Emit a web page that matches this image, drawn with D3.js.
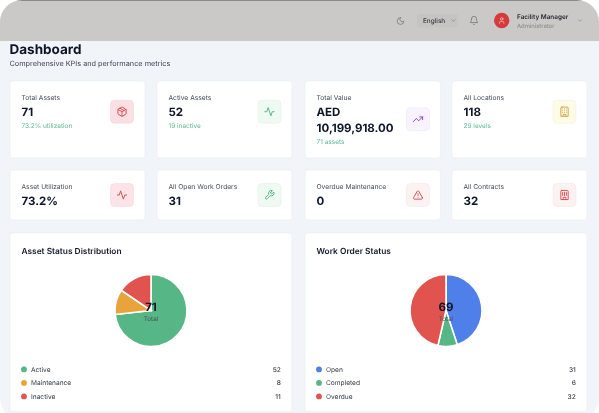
<!DOCTYPE html>
<html>
<head>
<meta charset="utf-8">
<title>Dashboard</title>
<style>
	body,html { margin:0px; background:#fff; }
	svg { display:block; font-family:Inter,sans-serif; text-rendering:geometricPrecision; }
</style>
<script src="https://cdn.jsdelivr.net/npm/d3@7/dist/d3.min.js"></script>
</head>
<body>
<svg id="page" width="599" height="413"></svg>
<script>
// kpi cards
var cardLabels = ["Total Assets","Active Assets","Total Value","All Locations","Asset Utilization","All Open Work Orders","Overdue Maintenance","All Contracts"];
var cardValues = [["71"],["52"],["AED","10,199,918.00"],["118"],["73.2%"],["31"],["0"],["32"]];
var cardNotes = ["73.2% utilization","19 inactive","71 assets","29 levels","","","",""];
var cardIcons = ["box","activity","trend","building","activity","wrench","alert","contract"];
var cardTints = ["#fbdfe3","#effaf3","#f8f3fe","#fefbe6","#fbe3e7","#effaf3","#fdf2f2","#fdf2f2"];
var cardInks = ["#d2484d","#4cb17f","#8038d8","#cfa03c","#d2484d","#4cb17f","#d2484d","#d2484d"];

// pie charts
var assetStatus = ["Active","Maintenance","Inactive"];
var assetCounts = [52,8,11];
var assetColors = ["#56b686","#e9a33b","#e0534f"];
var orderStatus = ["Open","Completed","Overdue"];
var orderCounts = [31,6,32];
var orderColors = ["#4f7fe8","#56b686","#e0534f"];

// lucide style outlines on a 24 grid
var iconPaths = {
	box:["M21 8a2 2 0 0 0-1-1.73l-7-4a2 2 0 0 0-2 0l-7 4A2 2 0 0 0 3 8v8a2 2 0 0 0 1 1.73l7 4a2 2 0 0 0 2 0l7-4A2 2 0 0 0 21 16Z","m3.3 7 8.7 5 8.7-5","M12 22V12","m7.5 4.27 9 5.15"],
	activity:["M22 12h-4l-3 9L9 3l-3 9H2"],
	trend:["M22 7 13.5 15.5 8.5 10.5 2 17","M16 7h6v6"],
	building:["M6 2h12a2 2 0 0 1 2 2v18H4V4a2 2 0 0 1 2-2Z","M9 22v-4h6v4","M8 6h.01M12 6h.01M16 6h.01M8 10h.01M12 10h.01M16 10h.01M8 14h.01M12 14h.01M16 14h.01"],
	wrench:["M14.7 6.3a1 1 0 0 0 0 1.4l1.6 1.6a1 1 0 0 0 1.4 0l3.77-3.77a6 6 0 0 1-7.94 7.94l-6.91 6.91a2.12 2.12 0 0 1-3-3l6.91-6.91a6 6 0 0 1 7.94-7.94l-3.76 3.76z"],
	alert:["m21.73 18-8-14a2 2 0 0 0-3.48 0l-8 14A2 2 0 0 0 4 21h16a2 2 0 0 0 1.73-3Z","M12 9v4","M12 17h.01"],
	contract:["M6 2h12a2 2 0 0 1 2 2v18H4V4a2 2 0 0 1 2-2Z","M9 22v-5h6v5","M8 6v7M12 6v7M16 6v7"],
	moon:["M12 3a6 6 0 0 0 9 9 9 9 0 1 1-9-9Z"],
	bell:["M6 8a6 6 0 0 1 12 0c0 7 3 9 3 9H3s3-2 3-9","M10.3 21a1.94 1.94 0 0 0 3.4 0"],
	chevron:["m6 9 6 6 6-6"],
	user:["M19 21v-2a4 4 0 0 0-4-4H9a4 4 0 0 0-4 4v2","M16 7a4 4 0 1 1-8 0 4 4 0 0 1 8 0Z"]
};

var svg = d3.select("#page");

function label(parent,x,y,txt,size,weight,fill,anchor)
{
	return parent.append("text")
		.attr("x",x).attr("y",y)
		.attr("font-size",size).attr("font-weight",weight)
		.attr("fill",fill).attr("text-anchor",anchor || "start")
		.text(txt);
}

function icon(parent,name,cx,cy,size,ink,sw)
{
	var k = size/24;
	var g = parent.append("g")
		.attr("transform","translate("+(cx-size/2)+","+(cy-size/2)+") scale("+k+")")
		.attr("fill","none").attr("stroke",ink).attr("stroke-width",sw || 2)
		.attr("stroke-linecap","round").attr("stroke-linejoin","round");
	g.selectAll("path").data(iconPaths[name]).enter().append("path").attr("d",function(d){ return d; });
}

// the reference is a soft, rescaled screenshot
var defs = svg.append("defs");
defs.append("filter").attr("id","soft")
	.attr("x",0).attr("y",0).attr("width",1).attr("height",1)
	.append("feGaussianBlur").attr("stdDeviation",0.22);

// window frame
defs.append("clipPath").attr("id","frame").append("rect")
	.attr("width",599).attr("height",420).attr("rx",22);
var page = svg.append("g").attr("clip-path","url(#frame)").append("g").attr("filter","url(#soft)");
page.append("rect").attr("width",599).attr("height",420).attr("fill","#f1f4f8");
page.append("rect").attr("width",599).attr("height",41).attr("fill","#cbc9c8");
page.append("rect").attr("width",599).attr("height",1).attr("fill","#8b8b8b");

// header
icon(page,"moon",400.5,21,9,"#6f6f6f",1.8);
page.append("rect").attr("x",417).attr("y",14).attr("width",41).attr("height",13.5).attr("rx",3).attr("fill","#c5c4c3");
label(page,423,23.3,"English",6.4,500,"#33363d");
icon(page,"chevron",453.5,20.5,6.5,"#6f6f6f");
icon(page,"bell",474,20.5,10,"#6f6f6f",1.8);
page.append("circle").attr("cx",501.7).attr("cy",20.5).attr("r",7.7).attr("fill","#d63a3a");
icon(page,"user",501.7,20.5,7.5,"#fbdcdc");
label(page,517,19.2,"Facility Manager",6.4,600,"#2a2d35");
label(page,517,27.5,"Administrator",5.9,400,"#858585");
icon(page,"chevron",580,20.5,6.5,"#7a7a7a");

// title
label(page,9.5,54,"Dashboard",13.5,700,"#0f1526");
label(page,9.5,66,"Comprehensive KPIs and performance metrics",7.3,400,"#3f4656");

// cards
var colX = [10,157,305,452];
var cardW = [135,135,135.5,135];
var iconX = [122,269.5,418,564.5];

function card(x,y,w,h)
{
	page.append("rect")
		.attr("x",x).attr("y",y).attr("width",w).attr("height",h).attr("rx",3)
		.attr("fill","#fff").attr("stroke","#e8ecf1").attr("stroke-width",0.6);
}

cardLabels.forEach(function(name,i){
	var col = i%4, top = i<4;
	var x = colX[col];
	var y = top ? 81 : 170;
	card(x,y,cardW[col],top ? 77 : 50);
	label(page,x+11.5,top ? 100 : 188.5,name,6.7,400,"#444a58");
	var baseY = top ? 116 : 205;
	cardValues[i].forEach(function(v,j){
		label(page,x+11.5,baseY+j*15.5,v,11.5,700,"#10152a");
	});
	if(cardNotes[i])
		label(page,x+11.5,baseY+(cardValues[i].length-1)*15.5+12,cardNotes[i],6.5,400,"#5dbb92");
	var iy = top ? (cardValues[i].length>1 ? 119.2 : 111.7) : 195;
	page.append("rect")
		.attr("x",iconX[col]-11.5).attr("y",iy-11.5).attr("width",23).attr("height",23).attr("rx",4)
		.attr("fill",cardTints[i]).attr("stroke",d3.color(cardTints[i]).darker(0.2)).attr("stroke-width",0.4);
	icon(page,cardIcons[i],iconX[col],iy,11,cardInks[i],2);
});

// pies
var pie = d3.pie().sort(null);
var arc = d3.arc().innerRadius(0).outerRadius(36);

function statusPanel(x,title,names,counts,colors,total)
{
	card(x,233,282,178.5);
	label(page,x+11.5,254,title,8.35,600,"#141928");
	var cx = x+141, cy = 310.5;
	var color = d3.scaleOrdinal().domain(names).range(colors);
	page.append("g").attr("transform","translate("+cx+","+cy+")")
		.selectAll("path").data(pie(counts)).enter().append("path")
		.attr("d",arc)
		.attr("fill",function(d,i){ return color(names[i]); })
		.attr("stroke","#fff").attr("stroke-width",1.6);
	label(page,cx,cy+0.3,total,11.5,700,"#10152a","middle");
	label(page,cx,cy+10.7,"Total",6.3,400,"#4a505c","middle");
	var rowY = d3.scalePoint().domain(names).range([369.4,396.4]);
	names.forEach(function(n,i){
		page.append("circle").attr("cx",x+14).attr("cy",rowY(n)).attr("r",2.9).attr("fill",color(n));
		label(page,x+21,rowY(n)+2.4,n,6.6,400,"#333844");
		label(page,x+270.8,rowY(n)+2.4,counts[i],6.6,500,"#333844","end");
	});
}
statusPanel(10,"Asset Status Distribution",assetStatus,assetCounts,assetColors,d3.sum(assetCounts));
statusPanel(305,"Work Order Status",orderStatus,orderCounts,orderColors,d3.sum(orderCounts));
</script>
</body>
</html>
